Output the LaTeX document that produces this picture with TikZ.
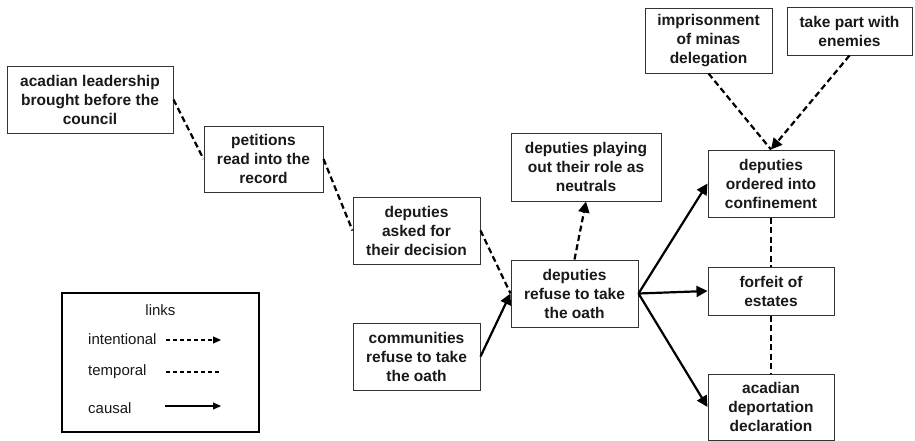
\documentclass[tikz,border=0pt]{standalone}
\usepackage{fontspec}
\setmainfont{Liberation Sans}
\usetikzlibrary{arrows.meta}
\begin{document}
\begin{tikzpicture}[x=1pt,y=-1pt,
  evbox/.style={draw=black!80,line width=1pt,fill=white,inner sep=0pt,align=center,
    font=\bfseries\fontsize{15.5}{19}\selectfont,text=black!90},
  temporal/.style={line width=2.2pt,dash pattern=on 6pt off 3.5pt},
  intentional/.style={line width=2.2pt,dash pattern=on 6pt off 3.5pt,-{Triangle[length=11pt,width=11pt]}},
  causal/.style={line width=2.2pt,-{Triangle[length=11pt,width=11pt]}},
  legtext/.style={font=\fontsize{15}{18}\selectfont,text=black!90,inner sep=0pt}]
\useasboundingbox (0,0) rectangle (915,440);
\fill[white] (0,0) rectangle (915,440);
% event boxes
\node[evbox,minimum width=166pt,minimum height=67pt] (lead) at (90,99.5) {acadian leadership\\brought before the\\council};
\node[evbox,minimum width=119pt,minimum height=66pt] (pet) at (263.5,159) {petitions\\read into the\\record};
\node[evbox,minimum width=127pt,minimum height=67pt] (ask) at (416.5,230.5) {deputies\\asked for\\their decision};
\node[evbox,minimum width=127pt,minimum height=67pt] (ref) at (574.5,293.5) {deputies\\refuse to take\\the oath};
\node[evbox,minimum width=150pt,minimum height=68pt] (neu) at (586,167) {deputies playing\\out their role as\\neutrals};
\node[evbox,minimum width=127pt,minimum height=67pt] (com) at (416.5,356.5) {communities\\refuse to take\\the oath};
\node[evbox,minimum width=126pt,minimum height=67pt] (conf) at (771,183.5) {deputies\\ordered into\\confinement};
\node[evbox,minimum width=126pt,minimum height=48pt] (forf) at (771,291) {forfeit of\\estates};
\node[evbox,minimum width=126pt,minimum height=66pt] (dep) at (771,407) {acadian\\deportation\\declaration};
\node[evbox,minimum width=127pt,minimum height=65pt] (imp) at (708.5,40.5) {imprisonment\\of minas\\delegation};
\node[evbox,minimum width=125pt,minimum height=48pt] (take) at (849.5,31) {take part with\\enemies};
% connectors
\draw[temporal] (lead.east) -- (pet.west);
\draw[temporal] (pet.east) -- (ask.west);
\draw[temporal] (ask.east) -- (ref.west);
\draw[causal] (com.east) -- (ref.west);
\draw[intentional] (ref.north) -- (neu.south);
\draw[causal] (ref.east) -- (conf.west);
\draw[causal] (ref.east) -- (forf.west);
\draw[causal] (ref.east) -- (dep.west);
\draw[temporal] (conf.south) -- (forf.north);
\draw[temporal] (forf.south) -- (dep.north);
\draw[temporal] (imp.south) -- (conf.north);
\draw[intentional] (take.south) -- (conf.north);
% legend
\node[draw=black,line width=2.4pt,minimum width=197pt,minimum height=139pt,inner sep=0pt] (leg) at (160.5,362.5) {};
\node[legtext] (legt) at (160.5,310) {links};
\node[legtext,anchor=west] (li) at (88,339) {intentional};
\node[legtext,anchor=west] (lt) at (88,372) {temporal};
\node[legtext,anchor=west] (lc) at (88,408) {causal};
\coordinate (ia) at (166,340);
\coordinate (ib) at (221,340);
\coordinate (ta) at (166,372);
\coordinate (tb) at (221,372);
\coordinate (ca) at (165,406);
\coordinate (cb) at (221,406);
\draw[line width=1.1pt,dash pattern=on 4pt off 3pt,-{Triangle[length=8pt,width=7pt]}] (ia) -- (ib);
\draw[line width=1.1pt,dash pattern=on 4pt off 3pt] (ta) -- (tb);
\draw[line width=1.1pt,-{Triangle[length=8pt,width=7pt]}] (ca) -- (cb);
\end{tikzpicture}
\end{document}
